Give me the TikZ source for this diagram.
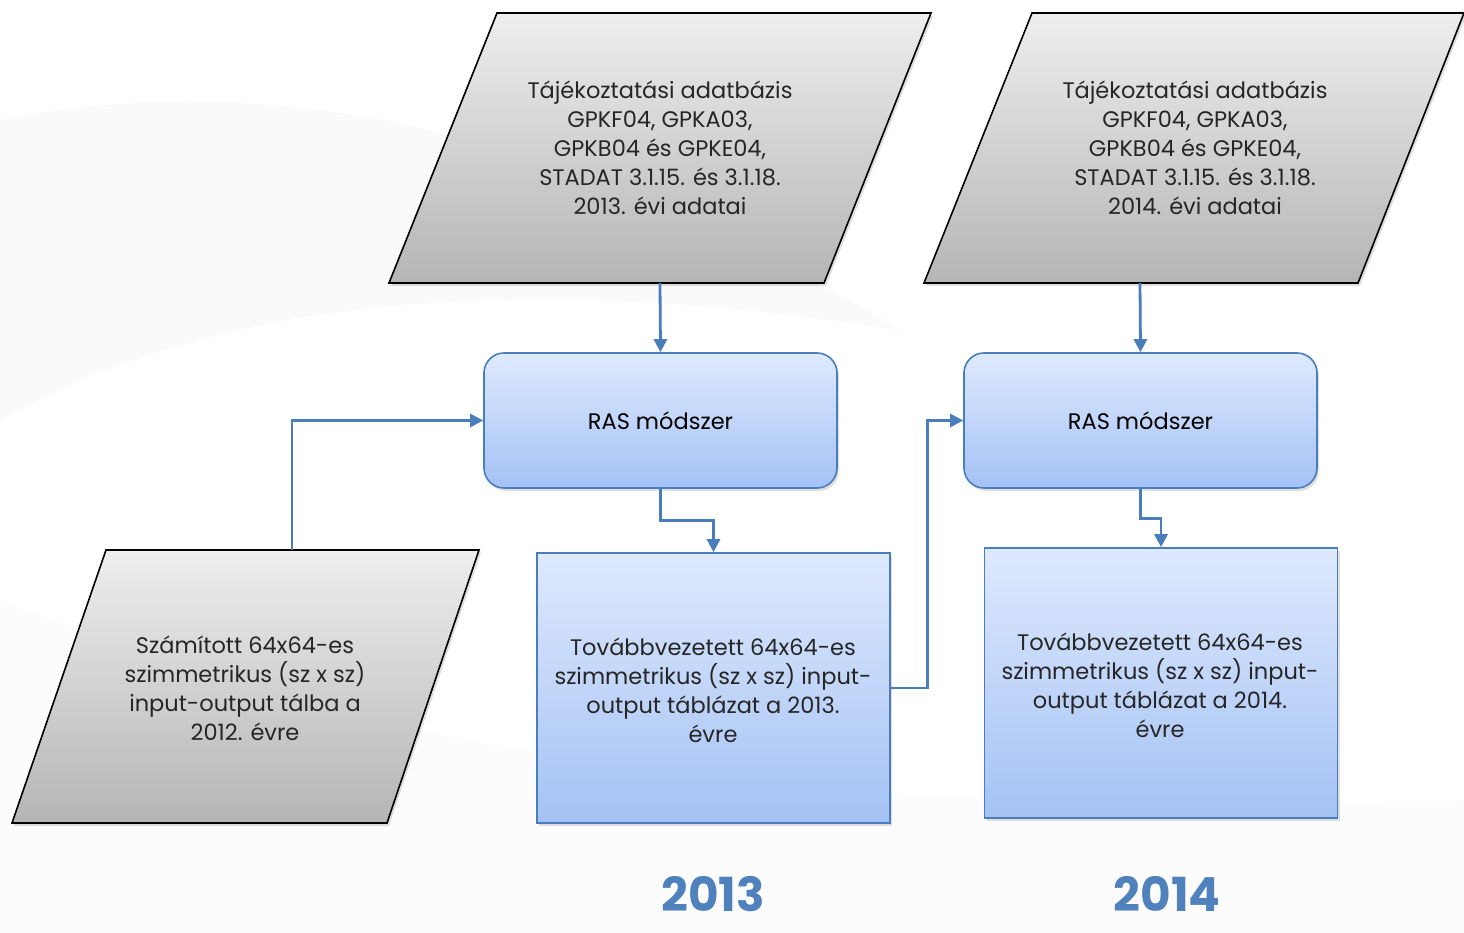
\documentclass[tikz,border=0pt]{standalone}
\usepackage{fontspec}
\setmainfont{Poppins}
\usetikzlibrary{arrows.meta,shadows}
\definecolor{conn}{HTML}{4A7EBB}
\definecolor{bluetop}{HTML}{DEE9FD}
\definecolor{bluebot}{HTML}{A4C2F4}
\definecolor{graytop}{HTML}{EEEEEE}
\definecolor{graybot}{HTML}{B5B5B5}
\definecolor{yearblue}{HTML}{4F81BD}
\tikzset{
  para/.style={draw=black, line width=1.6pt, top color=graytop, bottom color=graybot,
    drop shadow={shadow xshift=2pt, shadow yshift=-3pt, opacity=0.25}},
  rasbox/.style={draw=conn, line width=1.6pt, rounded corners=20pt, top color=bluetop, bottom color=bluebot,
    minimum width=353pt, minimum height=135pt, inner sep=0pt,
    drop shadow={shadow xshift=2pt, shadow yshift=-3pt, opacity=0.25}, font=\fontsize{22.5}{29}\selectfont},
  outbox/.style={draw=conn, line width=1.6pt, top color=bluetop, bottom color=bluebot,
    minimum width=353pt, minimum height=270pt, inner sep=0pt,
    drop shadow={shadow xshift=2pt, shadow yshift=-3pt, opacity=0.25}},
  txt/.style={align=center, font=\fontsize{22.5}{29}\selectfont, text=black!85},
  conn/.style={draw=conn, line width=2.8pt, -{Triangle[length=13pt,width=13pt]}},
  year/.style={text=yearblue, inner sep=0pt, font=\fontsize{47}{47}\selectfont\bfseries}
}
\begin{document}
\begin{tikzpicture}[x=1pt,y=-1pt]
\useasboundingbox (0,0) rectangle (1464,933);
\fill[white] (0,0) rectangle (1464,933);
% faint background swooshes
\fill[black!3, opacity=0.6] (0,120) .. controls (300,60) and (600,150) .. (900,330) .. controls (700,300) and (300,250) .. (0,420) -- cycle;
\fill[black!2, opacity=0.6] (0,600) .. controls (400,760) and (800,820) .. (1464,800) -- (1464,933) -- (0,933) -- cycle;
% input parallelograms
\path[para] (497,13) -- (931,13) -- (824,283) -- (389,283) -- cycle;
\node[txt] (p1) at (660,148) {Tájékoztatási adatbázis\\GPKF04, GPKA03,\\GPKB04 és GPKE04,\\STADAT 3.1.15. és 3.1.18.\\2013. évi adatai};
\coordinate (p1b) at (660,283);
\path[para] (1032,13) -- (1464,13) -- (1358,283) -- (924,283) -- cycle;
\node[txt] (p2) at (1195,148) {Tájékoztatási adatbázis\\GPKF04, GPKA03,\\GPKB04 és GPKE04,\\STADAT 3.1.15. és 3.1.18.\\2014. évi adatai};
\coordinate (p2b) at (1140,283);
\path[para] (106,550) -- (479,550) -- (387,823) -- (12,823) -- cycle;
\node[txt] (p3) at (245,688) {Számított 64x64-es\\szimmetrikus (sz x sz)\\input-output tálba a\\2012. évre};
\coordinate (p3t) at (292,550);
% RAS boxes
\node[rasbox] (ras1) at (660.5,420.5) {RAS módszer};
\node[rasbox] (ras2) at (1140.5,420.5) {RAS módszer};
% output boxes
\node[outbox] (o1) at (713.5,688) {};
\node[txt] (o1t) at (713,690) {Továbbvezetett 64x64-es\\szimmetrikus (sz x sz) input-\\output táblázat a 2013.\\évre};
\node[outbox] (o2) at (1161,683) {};
\node[txt] (o2t) at (1160,685) {Továbbvezetett 64x64-es\\szimmetrikus (sz x sz) input-\\output táblázat a 2014.\\évre};
% connectors
\draw[conn] (p1b) -- (ras1.north);
\draw[conn] (p2b) -- (ras2.north);
\draw[conn] (p3t) |- (ras1.west);
\draw[conn] (ras1.south) -- ++(0,32) -| (o1.north);
\draw[conn] (ras2.south) -- ++(0,30) -| (o2.north);
\draw[conn] (o1.east) -- ++(37,0) |- (ras2.west);
% year labels
\node[year] (y1) at (713,894) {2013};
\node[year] (y2) at (1167,894) {2014};
\end{tikzpicture}
\end{document}
